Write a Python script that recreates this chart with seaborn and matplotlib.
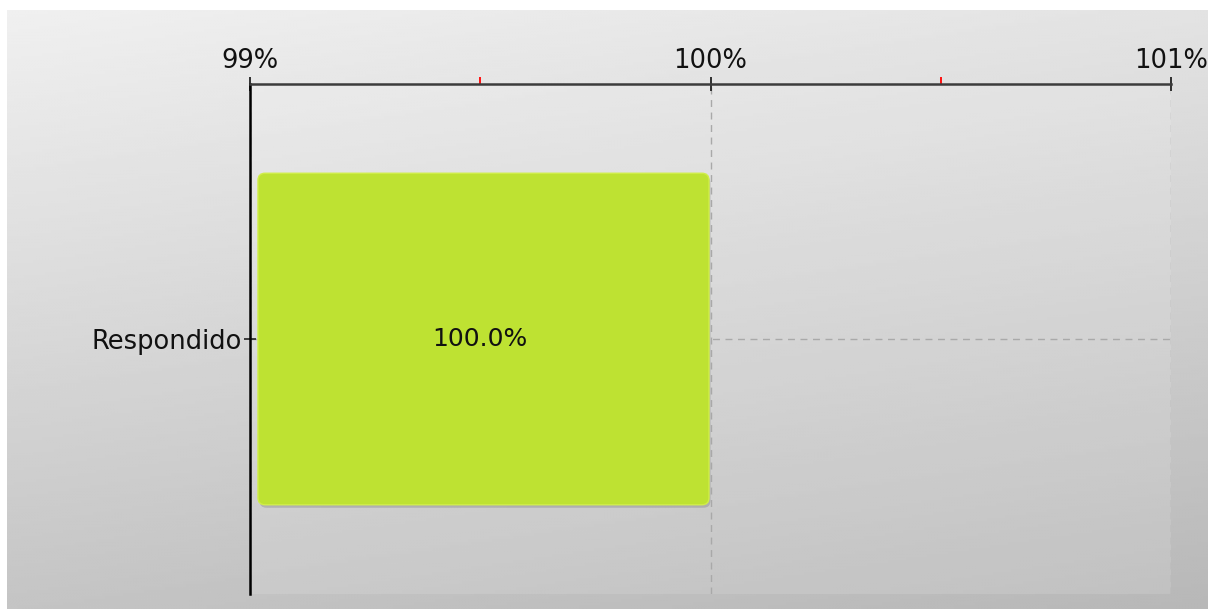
import numpy as np
import pandas as pd
import seaborn as sns
import matplotlib.pyplot as plt
from matplotlib.patches import FancyBboxPatch
from matplotlib.ticker import FuncFormatter

# data
categories = ["Respondido"]
values = [100.0]
x_ticks = [99, 100, 101]
x_minor_ticks = [99.5, 100.5]

bar_color = "#bee232"

sns.set_theme(style="white")
plt.rcParams["font.family"] = ["DejaVu Sans", "Liberation Sans"]

W, H = 1208, 609
fig = plt.figure(figsize=(W / 100, H / 100), dpi=100)
fig.patch.set_facecolor("white")

# grey gradient panel behind the chart
bg = fig.add_axes([7 / W, 0, 1 - 7 / W, 1 - 10 / H])
bg.set_axis_off()
yy, xx = np.mgrid[0:1:200j, 0:1:400j]
shade = 0.94 - 0.17 * yy - 0.05 * xx
bg.imshow(shade, cmap="gray", vmin=0, vmax=1, aspect="auto",
          extent=[0, 1, 0, 1], origin="upper", interpolation="bilinear")

# plot area
ax = fig.add_axes([250 / W, 1 - 594 / H, (1171 - 250) / W, (594 - 84) / H])
ax.set_facecolor((1, 1, 1, 0.12))

df = pd.DataFrame({"status": categories, "pct": values})
sns.barplot(data=df, x="pct", y="status", orient="h", color=bar_color,
            saturation=1, width=0.65, ax=ax, zorder=3)

xlim = (x_ticks[0], x_ticks[-1])
ax.set_xlim(*xlim)
ax.set_ylim(0.5, -0.5)
ax.set_xlabel("")
ax.set_ylabel("")

# swap the square bars for rounded ones with a soft shadow
fig.canvas.draw()
px_x = ax.bbox.width / (xlim[1] - xlim[0])
px_y = ax.bbox.height / 1.0
aspect = px_x / px_y
r = 7 / px_x
for p in list(ax.patches):
    y0, h = p.get_y(), p.get_height()
    x0 = max(p.get_x(), xlim[0]) + 8 / px_x
    x1 = p.get_x() + p.get_width() - 1.5 / px_x
    p.remove()
    shadow = FancyBboxPatch((x0 + 1.5 / px_x, y0 + 3 / px_y), x1 - x0, h,
                            boxstyle=f"round,pad=0,rounding_size={r}",
                            mutation_aspect=aspect, facecolor="#7a7a7a",
                            edgecolor="none", alpha=0.35, zorder=2)
    ax.add_patch(shadow)
    bar = FancyBboxPatch((x0, y0), x1 - x0, h,
                         boxstyle=f"round,pad=0,rounding_size={r}",
                         mutation_aspect=aspect, facecolor=bar_color,
                         edgecolor="#d0ee48", linewidth=1, zorder=3)
    ax.add_patch(bar)

for i, v in enumerate(values):
    ax.text((xlim[0] + v) / 2, i, f"{v:.1f}%", ha="center", va="center",
            fontsize=18, color="#111111", zorder=4)

# grid
ax.set_axisbelow(True)
ax.grid(True, which="major", axis="both", linestyle=(0, (5, 4)),
        color="#a9a9a9", linewidth=1)

# axes: x on top, percent labels, red minor ticks
ax.xaxis.tick_top()
ax.set_xticks(x_ticks)
ax.set_xticks(x_minor_ticks, minor=True)
ax.xaxis.set_major_formatter(FuncFormatter(lambda v, _: f"{v:.0f}%"))
ax.tick_params(axis="x", which="major", top=True, bottom=False,
               direction="inout", length=10, width=1.3, color="#222222",
               labelsize=18.5, labelcolor="#111111", pad=2)
ax.tick_params(axis="x", which="minor", top=True, bottom=False,
               direction="out", length=5, width=1.3, color="#ff0000")
ax.tick_params(axis="y", left=True, direction="inout", length=9,
               width=1.2, color="#222222", labelsize=18.5,
               labelcolor="#111111", pad=1)

for side in ["right", "bottom"]:
    ax.spines[side].set_visible(False)
ax.spines["left"].set_color("#000000")
ax.spines["left"].set_linewidth(1.8)
ax.spines["top"].set_color("#3c3c3c")
ax.spines["top"].set_linewidth(1.8)

fig.savefig("out.png", dpi=100)
plt.close(fig)
